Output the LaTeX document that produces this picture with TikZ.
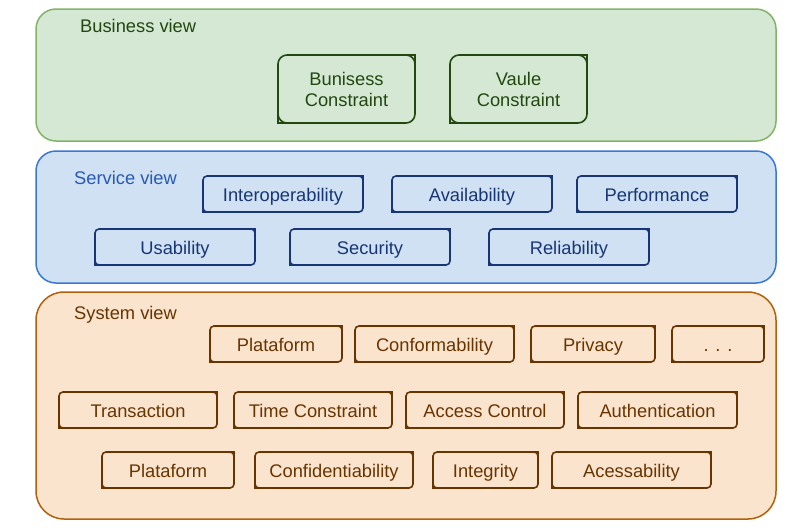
\documentclass[tikz,border=0pt]{standalone}
\usepackage{fontspec}
\setmainfont{Liberation Sans}
\usetikzlibrary{positioning}
\definecolor{bizfill}{RGB}{213,232,212}
\definecolor{bizedge}{RGB}{130,179,102}
\definecolor{biztext}{RGB}{34,72,16}
\definecolor{svcfill}{RGB}{207,225,242}
\definecolor{svcedge}{RGB}{58,120,214}
\definecolor{svctext}{RGB}{24,54,118}
\definecolor{svclabel}{RGB}{40,90,180}
\definecolor{sysfill}{RGB}{251,228,206}
\definecolor{sysedge}{RGB}{180,96,8}
\definecolor{systext}{RGB}{104,52,0}
\tikzset{
  viewbg/.style={rectangle,rounded corners=20pt,line width=1.5pt,minimum width=740pt,outer sep=0pt},
  viewlbl/.style={anchor=west,inner sep=0pt},
  basebox/.style={rectangle,align=center,line width=1.6pt,outer sep=0pt,inner sep=0pt,minimum height=36pt},
  bizbox/.style={basebox,draw=biztext,text=biztext,rounded corners=9pt,minimum width=137pt,minimum height=68pt},
  svcbox/.style={basebox,draw=svctext,text=svctext,rounded corners=4pt,minimum width=160pt,text height=14.6pt,text depth=0pt},
  sysbox/.style={basebox,draw=systext,text=systext,rounded corners=4pt,minimum width=158pt,text height=14.6pt,text depth=0pt},
  bizcorner/.style={draw=biztext,line width=1.6pt},
  svccorner/.style={draw=svctext,line width=1.6pt},
  syscorner/.style={draw=systext,line width=1.6pt}
}

\begin{document}
\begin{tikzpicture}[x=1pt,y=-1pt,font=\fontsize{18.3}{21}\selectfont]

  \fill[white] (0,0) rectangle (792,531);
  \useasboundingbox (0,0) rectangle (792,531);

  %% View containers
  \node[viewbg,draw=bizedge,fill=bizfill,minimum height=132pt] (bizview) at (406,75) {};
  \node[viewbg,draw=svcedge,fill=svcfill,minimum height=132pt] (svcview) at (406,217) {};
  \node[viewbg,draw=sysedge,fill=sysfill,minimum height=227pt,rounded corners=28pt] (sysview) at (406,405.5) {};

  \node[viewlbl,text=biztext] (bizlbl) at (80,26) {Business view};
  \node[viewlbl,text=svclabel] (svclbl) at (74,178) {Service view};
  \node[viewlbl,text=systext] (syslbl) at (74,315) {System view};

  %% Business view
  \node[bizbox] (bizcons) at (346.5,89) {Bunisess\\Constraint};
  \node[bizbox,right=35pt of bizcons] (valcons) {Vaule\\Constraint};

  %% Service view
  \node[svcbox] (interop) at (283,194) {Interoperability};
  \node[svcbox,right=29pt of interop] (avail) {Availability};
  \node[svcbox,right=25pt of avail] (perf) {Performance};
  \node[svcbox] (usab) at (175,247) {Usability};
  \node[svcbox,right=35pt of usab] (secur) {Security};
  \node[svcbox,right=39pt of secur] (relia) {Reliability};

  %% System view
  \node[sysbox,minimum width=132pt] (platf) at (276,344) {Plataform};
  \node[sysbox,minimum width=159pt,right=13pt of platf] (conform) {Conformability};
  \node[sysbox,minimum width=124pt,right=17pt of conform] (privacy) {Privacy};
  \node[sysbox,minimum width=92pt,right=17pt of privacy] (more) {. . .};

  \node[sysbox] (transact) at (138,410) {Transaction};
  \node[sysbox,right=17pt of transact] (timecons) {Time Constraint};
  \node[sysbox,right=14pt of timecons] (access) {Access Control};
  \node[sysbox,minimum width=159pt,right=14pt of access] (authent) {Authentication};

  \node[sysbox,minimum width=132pt] (platfb) at (168,470) {Plataform};
  \node[sysbox,right=21pt of platfb] (confid) {Confidentiability};
  \node[sysbox,minimum width=105pt,right=20pt of confid] (integ) {Integrity};
  \node[sysbox,minimum width=159pt,right=14pt of integ] (acces) {Acessability};

  %% sharp top-right and bottom-left corners
  \foreach \n in {bizcons,valcons} {
    \draw[bizcorner] ([xshift=-11pt]\n.north east) -| ([yshift=-11pt]\n.north east);
    \draw[bizcorner] ([xshift=11pt]\n.south west) -| ([yshift=11pt]\n.south west);
  }
  \foreach \n in {interop,avail,perf,usab,secur,relia} {
    \draw[svccorner] ([xshift=-6pt]\n.north east) -| ([yshift=-6pt]\n.north east);
    \draw[svccorner] ([xshift=6pt]\n.south west) -| ([yshift=6pt]\n.south west);
  }
  \foreach \n in {platf,conform,privacy,more,transact,timecons,access,authent,platfb,confid,integ,acces} {
    \draw[syscorner] ([xshift=-6pt]\n.north east) -| ([yshift=-6pt]\n.north east);
    \draw[syscorner] ([xshift=6pt]\n.south west) -| ([yshift=6pt]\n.south west);
  }

\end{tikzpicture}
\end{document}
